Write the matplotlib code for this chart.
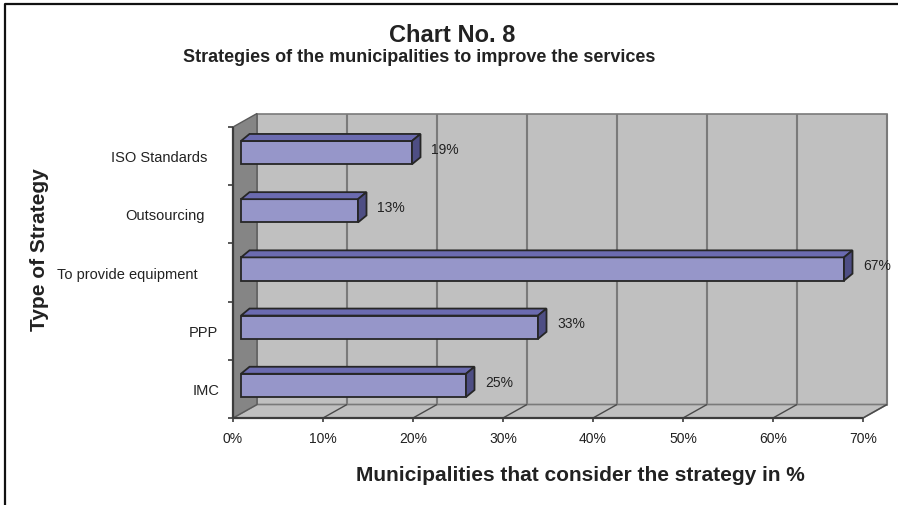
import matplotlib
matplotlib.use("Agg")
import matplotlib.pyplot as plt
from matplotlib.patches import Polygon
from matplotlib.lines import Line2D
import matplotlib.transforms as mtransforms

# ---- data -------------------------------------------------------------
categories = ["ISO Standards", "Outsourcing", "To provide equipment", "PPP", "IMC"]
shares = [19, 13, 67, 33, 25]
value_labels = ["19%", "13%", "67%", "33%", "25%"]
x_ticks = [0, 10, 20, 30, 40, 50, 60, 70]
x_tick_labels = ["0%", "10%", "20%", "30%", "40%", "50%", "60%", "70%"]
title = "Chart No. 8"
subtitle = "Strategies of the municipalities to improve the services"
x_title = "Municipalities that consider the strategy in %"
y_title = "Type of Strategy"

# ---- figure / axes ----------------------------------------------------
W, H, DPI = 898, 506, 100
plt.rcParams["font.family"] = ["Liberation Sans", "DejaVu Sans"]
fig = plt.figure(figsize=(W / DPI, H / DPI), dpi=DPI)
fig.patch.set_facecolor("white")

# front plane of the 3-D box, in figure pixels
left_px, right_px, top_px, bottom_px = 233, 863, 128, 419
ax = fig.add_axes([left_px / W, (H - bottom_px) / H,
                   (right_px - left_px) / W, (bottom_px - top_px) / H])
n = len(categories)
ax.set_xlim(x_ticks[0], x_ticks[-1])
ax.set_ylim(-0.5, n - 0.5)
ax.axis("off")

# category positions: first category at the top
ypos = [n - 1 - i for i in range(n)]

DEPTH_DX, DEPTH_DY = 24, 13.5  # wall depth in pixels (right / up)
ident = mtransforms.IdentityTransform()
fig.canvas.draw()


def P(x, y, dx=0.0, dy=0.0):
    """Data point -> display pixels, shifted by (dx, dy) pixels."""
    px, py = ax.transData.transform((x, y))
    return (px + dx, py + dy)


def D(x, y, depth):
    return P(x, y, depth * DEPTH_DX, depth * DEPTH_DY)


def poly(pts, fc, ec, lw=1.0, z=1):
    fig.add_artist(Polygon(pts, closed=True, facecolor=fc, edgecolor=ec,
                           linewidth=lw, transform=ident, zorder=z))


def seg(p, q, color, lw=1.0, z=2):
    fig.add_artist(Line2D([p[0], q[0]], [p[1], q[1]], color=color,
                          linewidth=lw, transform=ident, zorder=z,
                          solid_capstyle="butt"))


x0, x1 = x_ticks[0], x_ticks[-1]
yb, yt = -0.5, n - 0.5
wall = "#c0c0c0"
grid = "#7a7a7a"

# back wall, floor and side wall
poly([D(x0, yb, 1), D(x1, yb, 1), D(x1, yt, 1), D(x0, yt, 1)], wall, grid, 1.2, 1)
poly([D(x0, yb, 0), D(x1, yb, 0), D(x1, yb, 1), D(x0, yb, 1)], wall, grid, 1.2, 1)
poly([D(x0, yb, 0), D(x0, yb, 1), D(x0, yt, 1), D(x0, yt, 0)], "#858585", "#5a5a5a", 1.0, 1)

# gridlines on the back wall and depth lines on the floor
for t in x_ticks[1:]:
    seg(D(t, yb, 1), D(t, yt, 1), grid, 1.5, 2)
for t in x_ticks[1:]:
    seg(D(t, yb, 0), D(t, yb, 1), "#4a4a4a", 1.0, 2)

# front axes lines and tick marks
axis_col = "#3c3c3c"
seg(D(x0, yb, 0), D(x1, yb, 0), axis_col, 1.6, 3)
seg(D(x0, yb, 0), D(x0, yt, 0), axis_col, 1.6, 3)
for t in x_ticks:
    p = D(t, yb, 0)
    seg(p, (p[0], p[1] - 4), axis_col, 1.2, 3)
for k in range(n + 1):
    p = D(x0, k - 0.5, 0)
    seg(p, (p[0] - 5, p[1]), axis_col, 1.2, 3)

# 3-D bars
front_c, top_c, side_c, edge_c = "#9696c9", "#6b6bb0", "#4e4e84", "#262626"
F_DX, F_DY = 8.0, 3.5     # bar front face offset (pixels)
B_DX, B_DY = 16.5, 10.5   # bar back face offset (pixels)
half = 0.2
for y, v in zip(ypos, shares):
    lo, hi = y - half, y + half
    poly([P(0, lo, F_DX, F_DY), P(v, lo, F_DX, F_DY),
          P(v, hi, F_DX, F_DY), P(0, hi, F_DX, F_DY)], front_c, edge_c, 1.3, 5)
    poly([P(0, hi, F_DX, F_DY), P(v, hi, F_DX, F_DY),
          P(v, hi, B_DX, B_DY), P(0, hi, B_DX, B_DY)], top_c, edge_c, 1.3, 5)
    poly([P(v, lo, F_DX, F_DY), P(v, hi, F_DX, F_DY),
          P(v, hi, B_DX, B_DY), P(v, lo, B_DX, B_DY)], side_c, edge_c, 1.3, 5)

text_c = "#222222"


def fig_text(pt, s, **kw):
    fig.text(pt[0] / W, pt[1] / H, s, color=text_c, **kw)


# value labels
for y, v, lab in zip(ypos, shares, value_labels):
    fig_text(P(v, y, 27, 7.3), lab, fontsize=10, ha="left", va="center", zorder=6)

# category labels
label_right = [207, 205, 198, 218, 220]
for y, lab, rx in zip(ypos, categories, label_right):
    px, py = P(0, y)
    fig_text((rx, py - 1), lab, fontsize=10.5, ha="right", va="center")

# x tick labels
for t, lab in zip(x_ticks, x_tick_labels):
    px, py = D(t, yb, 0)
    fig_text((px, py - 20), lab, fontsize=10, ha="center", va="center")

# titles
fig.text(452 / W, 1 - 36 / H, title, fontsize=17, fontweight="bold",
         ha="center", va="center", color=text_c)
fig.text(419 / W, 1 - 58 / H, subtitle, fontsize=13, fontweight="bold",
         ha="center", va="center", color=text_c)
fig.text(580 / W, 1 - 476 / H, x_title, fontsize=15, fontweight="bold",
         ha="center", va="center", color=text_c)
fig.text(40 / W, 1 - 250 / H, y_title, fontsize=15, fontweight="bold",
         ha="center", va="center", rotation=90, color=text_c)

# chart frame (top and left edges visible)
fig.add_artist(Line2D([4.5, 4.5, W + 5], [-5, H - 5, H - 5], color="#111111",
                      linewidth=1.6, transform=ident, zorder=10))

fig.savefig("out.png", dpi=DPI, facecolor="white")
